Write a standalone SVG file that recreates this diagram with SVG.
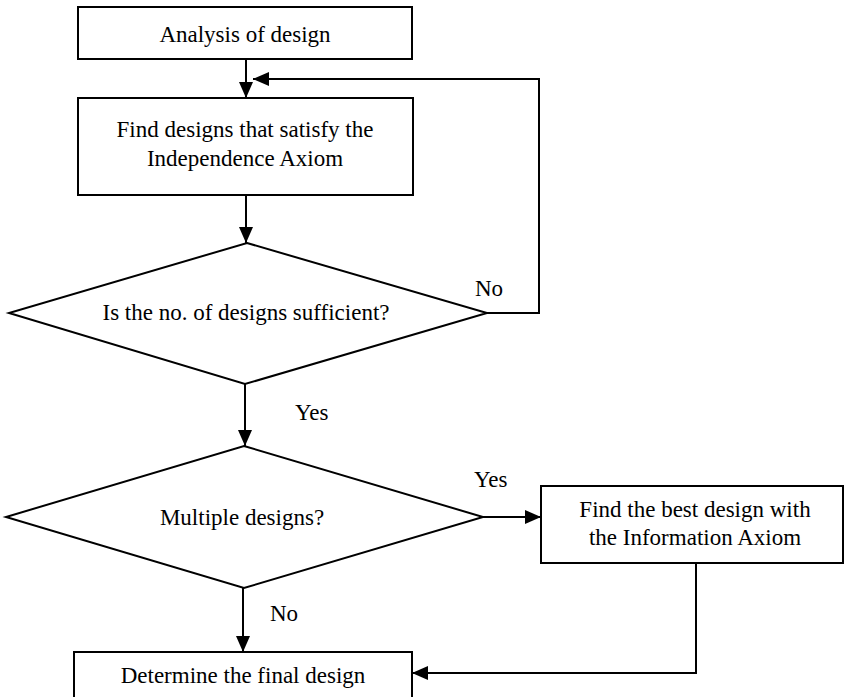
<svg xmlns="http://www.w3.org/2000/svg" width="845" height="697" viewBox="0 0 845 697">
<style>
.n{fill:#fff;stroke:#000;stroke-width:2}
.t{font-family:"Liberation Serif","Times New Roman",serif;font-size:23px;fill:#000;text-anchor:middle}
.l{font-family:"Liberation Serif","Times New Roman",serif;font-size:23px;fill:#000}
.c{fill:none;stroke:#000;stroke-width:2}
</style>
<defs>
<marker id="ah" markerUnits="userSpaceOnUse" markerWidth="16" markerHeight="16" viewBox="0 0 16 14" refX="16" refY="7" orient="auto">
<path d="M0,0 L16,7 L0,14 Z" fill="#000"/>
</marker>
</defs>
<rect width="845" height="697" fill="#fff"/>
<g id="connectors">
<path class="c" d="M246,59 V98" marker-end="url(#ah)"/>
<path class="c" d="M487,313 H539 V79 H253" marker-end="url(#ah)"/>
<path class="c" d="M246,195 V243" marker-end="url(#ah)"/>
<path class="c" d="M245,384 V446" marker-end="url(#ah)"/>
<path class="c" d="M483,517 H541" marker-end="url(#ah)"/>
<path class="c" d="M243,588 V652" marker-end="url(#ah)"/>
<path class="c" d="M696,563 V673 H412" marker-end="url(#ah)"/>
<text class="l" x="475" y="296">No</text>
<text class="l" x="295" y="420">Yes</text>
<text class="l" x="474" y="487">Yes</text>
<text class="l" x="270" y="621">No</text>
</g>
<g id="analysis">
<rect class="n" x="78" y="7" width="334" height="52"/>
<text class="t" x="245" y="42">Analysis of design</text>
</g>
<g id="find-designs">
<rect class="n" x="78" y="98" width="335" height="97"/>
<text class="t" x="245" y="137">Find designs that satisfy the</text>
<text class="t" x="245" y="166">Independence Axiom</text>
</g>
<g id="sufficient">
<polygon class="n" points="247,243 487,313 245,384 9,313"/>
<text class="t" x="246" y="320">Is the no. of designs sufficient?</text>
</g>
<g id="multiple">
<polygon class="n" points="244,446 483,517 244,588 6,517"/>
<text class="t" x="242" y="525">Multiple designs?</text>
</g>
<g id="best-design">
<rect class="n" x="541" y="486" width="302" height="77"/>
<text class="t" x="695" y="517">Find the best design with</text>
<text class="t" x="695" y="545">the Information Axiom</text>
</g>
<g id="final">
<rect class="n" x="74" y="652" width="338" height="50"/>
<text class="t" x="243" y="683">Determine the final design</text>
</g>
</svg>
